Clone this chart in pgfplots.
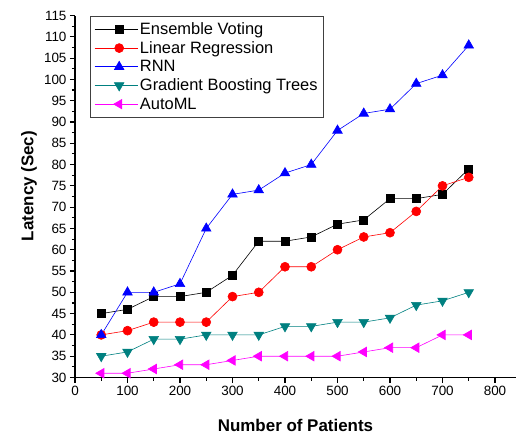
\documentclass[border=0pt]{standalone}
\usepackage{pgfplots}
\pgfplotsset{compat=1.18}
\usepackage{fontspec}
\setmainfont{Liberation Sans}
\definecolor{tealc}{RGB}{0,128,128}
\definecolor{magc}{RGB}{255,0,255}
\begin{document}
\begin{tikzpicture}
\begin{axis}[
 scale only axis, width=441bp, height=362bp,
 xmin=0, xmax=840, ymin=30, ymax=115,
 axis x line*=bottom, axis y line*=left,
 xtick pos=bottom, ytick pos=left,
 axis line style={-, line width=1.1bp},
 xtick={0,100,...,800}, ytick={30,35,...,115},
 minor x tick num=1, minor y tick num=1,
 tick align=outside,
 major tick length=5bp, minor tick length=3bp,
 every tick/.style={black, line width=1.1bp},
 tick label style={font=\fontsize{13.5}{16}\selectfont},
 /pgf/number format/assume math mode=true,
 xlabel={Number of Patients}, ylabel={Latency (Sec)},
 label style={font=\fontsize{17}{20}\selectfont\bfseries},
 xlabel style={at={(axis description cs:0.5,0)}, anchor=center, yshift=-47.5bp},
 ylabel style={at={(axis description cs:0,0.529)}, anchor=center, yshift=46bp},
 legend cell align=left,
 legend image code/.code={\path (0bp,0bp) -- (43bp,0bp); \draw[mark repeat=2,mark phase=2,#1] plot coordinates {(6bp,0bp)(24.5bp,0bp)(43bp,0bp)};},
 legend style={at={(0.034,1)}, anchor=north west, draw=black!75, line width=0.8bp,
   font=\fontsize{16.5}{19}\selectfont, inner xsep=4bp, inner ysep=4.5bp, row sep=1.6bp},
 clip=false,
]
\coordinate (bl) at (rel axis cs:0,0);
\addplot[black, line width=0.6bp, mark=square*, mark size=4bp, mark options={solid}] coordinates {
(50,45)(100,46)(150,49)(200,49)(250,50)(300,54)(350,62)(400,62)(450,63)(500,66)(550,67)(600,72)(650,72)(700,73)(750,79)};
\addlegendentry{Ensemble Voting}
\addplot[red, line width=0.6bp, mark=*, mark size=4.5bp, mark options={solid}] coordinates {
(50,40)(100,41)(150,43)(200,43)(250,43)(300,49)(350,50)(400,56)(450,56)(500,60)(550,63)(600,64)(650,69)(700,75)(750,77)};
\addlegendentry{Linear Regression}
\addplot[blue, line width=0.6bp, mark=triangle*, mark size=5.5bp, mark options={solid}] coordinates {
(50,40)(100,50)(150,50)(200,52)(250,65)(300,73)(350,74)(400,78)(450,80)(500,88)(550,92)(600,93)(650,99)(700,101)(750,108)};
\addlegendentry{RNN}
\addplot[tealc, line width=0.6bp, mark=triangle*, mark size=5.5bp, mark options={solid, rotate=180}] coordinates {
(50,35)(100,36)(150,39)(200,39)(250,40)(300,40)(350,40)(400,42)(450,42)(500,43)(550,43)(600,44)(650,47)(700,48)(750,50)};
\addlegendentry{Gradient Boosting Trees}
\addplot[magc, line width=0.6bp, mark=triangle*, mark size=5.5bp, mark options={solid, rotate=90}] coordinates {
(50,31)(100,31)(150,32)(200,33)(250,33)(300,34)(350,35)(400,35)(450,35)(500,35)(550,36)(600,37)(650,37)(700,40)(750,40)};
\addlegendentry{AutoML}
\end{axis}
\pgfresetboundingbox
\path[use as bounding box] ([shift={(-75bp,-57.5bp)}]bl) rectangle ([shift={(441bp,377.5bp)}]bl);
\end{tikzpicture}
\end{document}
